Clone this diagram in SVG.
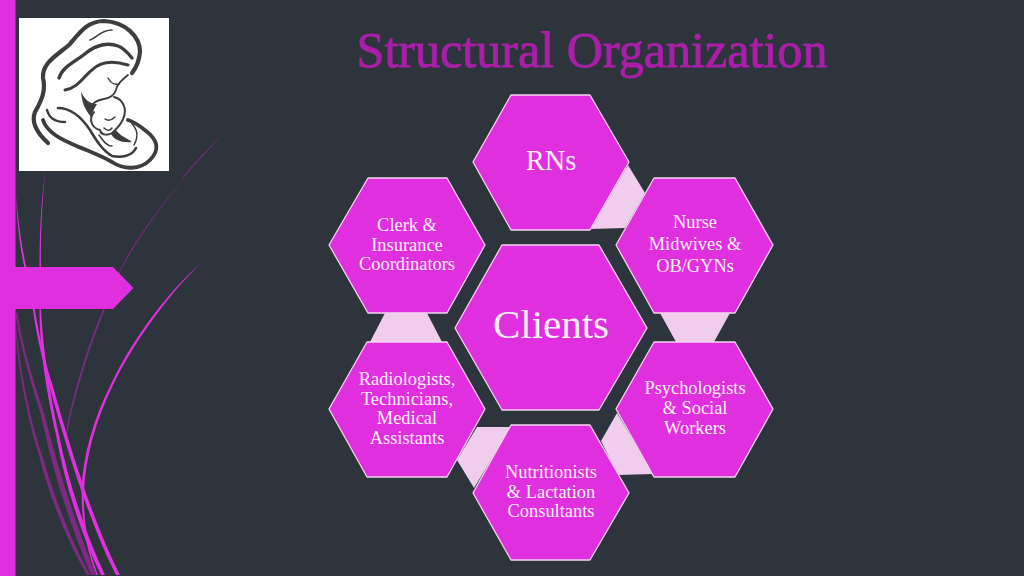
<svg xmlns="http://www.w3.org/2000/svg" width="1024" height="576" viewBox="0 0 1024 576">
<style>
.hex{fill:#e02fdf;stroke:#f3d5f0;stroke-width:1.3;stroke-linejoin:round}
.link{fill:#f0cdec;stroke:none}
text{font-family:"Liberation Serif","Times New Roman",serif;text-anchor:middle;fill:#fbeffb}
.s{font-size:18.4px}
.bright{fill:#e02fdf}
.dim{fill:#7d2a80}
.ink{fill:none;stroke:#3d3d3d;stroke-linecap:round;stroke-linejoin:round}
</style>
<rect width="1024" height="576" fill="#2d343c"/>
<g id="decor">
<path class="dim" d="M223,135 C208,148 195,162 182,178 L182.6,178.6 C196,163 209,149 223,135Z"/>
<path class="dim" d="M192,170 C160,205 135,240 120,270 C108,296 96,325 85,358 C75,390 68,415 66,436 L67,436 C70,415 77,390 87,358 C98,325 110,296 121,270 C137,240 161,205 192,170Z"/>
<path class="dim" d="M17,310 C22,345 33,380 43,410 C55,455 70,510 96,575 L91,575 C66,515 50,460 41,415 C30,380 20,345 16,316Z"/>
<path class="dim" d="M16,325 C20,370 30,420 42,455 C52,490 68,535 90,575 L87,575 C64,535 48,492 39,455 C28,420 18,372 16,332Z"/>
<path class="bright" d="M45.500,170 C42,200 40.500,235 41,268 L41,310 C43,345 48,385 59,435 C68,480 84,530 105,575 L101,575 C79,530 64,480 56,435 C45,385 39.500,345 39.500,310 L39.500,268 C39.500,235 41,200 45.500,170Z"/>
<path class="bright" d="M16,195 C18,220 22,250 27,270 L35,310 C40,340 46,365 54,390 C68,440 92,520 120,575 L116,575 C88,520 65,442 51,392 C44,365 37,340 33,310 L25,270 C20,250 17,220 16,195Z"/>
<path class="bright" d="M200,264 C170,293 135,340 113,385 C96,420 86,455 84,490 C83,520 88,550 98,575 L96.500,575 C86,550 81.500,520 81.500,490 C83,455 93,420 111,384 C133,338 168,292 200,264Z"/>
<rect x="0" y="0" width="15.500" height="576" class="bright"/>
<polygon class="bright" points="15,267 113,267 133.500,288 113,309 15,309"/>
</g>
<g id="logo">
<rect x="19" y="18" width="150" height="153" fill="#fff"/>
<path class="ink" stroke-width="4.200" d="M48,143 C36,132 31,122 35,112 C42,100 46,90 43,78 C42,62 58,55 70,44 C80,32 88,21 104,21 C125,22 140,36 140,52 C139,62 136,68 132,73"/>
<path class="ink" stroke-width="3.400" d="M59,78 C63,66 75,62 86,53 C96,45 108,42 118,46 C124,48 128,53 132,58"/>
<path class="ink" stroke-width="1.600" d="M90,40 C97,38 100,30 112,30"/>
<path class="ink" stroke-width="3" d="M65,90 C78,88 84,76 92,70 C100,62 112,60 128,65"/>
<path class="ink" stroke-width="1.800" d="M128,75 C122,80 117,84 116,90 C114,96 110,98 104,99 C98,100 92,103 90,108"/>
<path class="ink" stroke-width="1.400" d="M108,78 C110,82 114,85 119,84"/>
<path d="M81,92 C82,102 84,108 91,117 C93,111 95,107 97,104 C90,104 85,100 81,92Z" fill="#3d3d3d"/>
<path class="ink" stroke-width="2.400" d="M47,110 C49,118 56,122 65,122"/>
<path class="ink" stroke-width="3.800" d="M43,120 C46,130 56,137 70,143 C85,150 100,155 112,162 C124,170 140,170 150,160 C160,150 158,140 146,131 C140,126 134,122 128,120"/>
<path class="ink" stroke-width="2.600" d="M58,108 C72,108 82,118 90,130 C96,140 102,150 112,156 C122,158 132,156 136,148"/>
<path class="ink" stroke-width="2" d="M94,112 C88,120 92,128 100,130 C101,136 110,136 114,131 C122,124 127,114 124,106 C122,100 118,98 114,97"/>
<path class="ink" stroke-width="1.500" d="M105,119 C108,121 112,120 115,117 M104,128 C107,131 110,131 112,128"/>
<path d="M111,134 C114,140 122,143 132,142 C127,138 120,136 116,130Z" fill="#3d3d3d"/>
<path class="ink" stroke-width="1.500" d="M99,135 C104,142 107,146 112,146 M130,121 C136,128 140,134 134,145"/>
</g>
<text id="title" x="592" y="67" font-size="50" textLength="471" lengthAdjust="spacingAndGlyphs" style="fill:#a91fa8;stroke:#a91fa8;stroke-width:0.900">Structural Organization</text>
<g id="connectors">
<polygon class="link" points="628,165 645,193 625,228 591,229"/>
<polygon class="link" points="660,313 730,313 714,342 676,342"/>
<polygon class="link" points="617,413 653,474 618,475 601,441"/>
<polygon class="link" points="477,427 511,427 474,488 457,460"/>
<polygon class="link" points="385,313 427,313 442,342 370,342"/>
</g>
<g id="node-rns"><polygon class="hex" points="511,95 590,95 629,162 590,230 511,230 473,162"/><text x="551" y="170" font-size="28.500">RNs</text></g>
<g id="node-nurse"><polygon class="hex" points="654,178 735,178 773,245 735,313 654,313 616,245"/><text class="s" x="695" y="228">Nurse</text><text class="s" x="695" y="250">Midwives &amp;</text><text class="s" x="695" y="272">OB/GYNs</text></g>
<g id="node-psych"><polygon class="hex" points="654,342 735,342 773,409 735,477 654,477 616,409"/><text class="s" x="695" y="394">Psychologists</text><text class="s" x="695" y="414">&amp; Social</text><text class="s" x="695" y="434">Workers</text></g>
<g id="node-nutrition"><polygon class="hex" points="511,425 590,425 629,493 590,560 511,560 473,493"/><text class="s" x="551" y="478">Nutritionists</text><text class="s" x="551" y="498">&amp; Lactation</text><text class="s" x="551" y="517">Consultants</text></g>
<g id="node-radiology"><polygon class="hex" points="367,342 447,342 485,409 447,477 367,477 329,409"/><text class="s" x="407" y="385">Radiologists,</text><text class="s" x="407" y="405">Technicians,</text><text class="s" x="407" y="424">Medical</text><text class="s" x="407" y="444">Assistants</text></g>
<g id="node-clerk"><polygon class="hex" points="368,178 447,178 485,245 447,313 368,313 329,245"/><text class="s" x="407" y="231">Clerk &amp;</text><text class="s" x="407" y="251">Insurance</text><text class="s" x="407" y="270">Coordinators</text></g>
<g id="node-clients"><polygon class="hex" points="502,245 599,245 647,328 599,410 502,410 455,328"/><text x="551" y="338" font-size="41">Clients</text></g>
</svg>
